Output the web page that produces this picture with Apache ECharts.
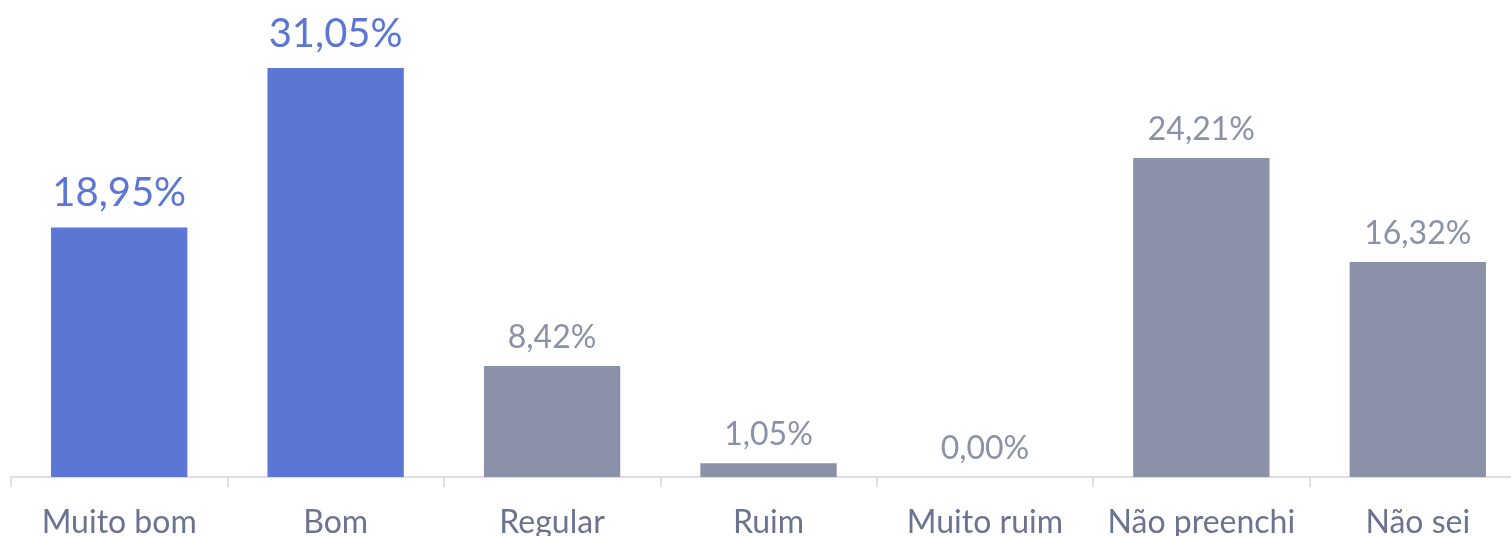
<!DOCTYPE html>
<html>
<head>
<meta charset="utf-8">
<script src="https://cdn.jsdelivr.net/npm/echarts@6/dist/echarts.min.js"></script>
<style>
  html, body { margin: 0; padding: 0; background: #fff; }
  #main { width: 1511px; height: 536px; }
</style>
</head>
<body>
<div id="main"></div>
<script>
var categories = ['Muito bom', 'Bom', 'Regular', 'Ruim', 'Muito ruim', 'Não preenchi', 'Não sei'];
var values = [18.95, 31.05, 8.42, 1.05, 0.00, 24.21, 16.32];
var highlighted = [true, true, false, false, false, false, false];

var myChart = echarts.init(document.getElementById('main'));

function fmt(v) {
	return v.toFixed(2).replace('.', ',') + '%';
}

var barData = values.map(function (v, i) {
	var hi = highlighted[i];
	return {
		value: v,
		itemStyle: { color: hi ? '#5B76D4' : '#8A91A8' },
		label: {
			color: hi ? '#5B76D4' : '#8A91A8',
			fontSize: hi ? 40 : 32,
			distance: hi ? 14 : 12
		}
	};
});

var option = {
	backgroundColor: '#ffffff',
	animation: false,
	grid: {
		left: 11,
		right: -15,
		top: 16,
		bottom: 59,
		containLabel: false,
		outerBoundsMode: 'none'
	},
	xAxis: {
		type: 'category',
		data: categories,
		axisLine: { lineStyle: { color: '#DCDFE6', width: 2 } },
		axisTick: { show: true, length: 10, lineStyle: { color: '#DCDFE6', width: 2 } },
		axisLabel: {
			color: '#6B7390',
			fontSize: 32,
			fontFamily: 'Lato',
			margin: 30,
			interval: 0
		}
	},
	yAxis: {
		type: 'value',
		min: 0,
		max: 35,
		show: false
	},
	series: [
		{
			type: 'bar',
			data: barData,
			barWidth: '63%',
			label: {
				show: true,
				position: 'top',
				fontFamily: 'Lato',
				formatter: function (p) { return fmt(p.value); }
			}
		}
	]
};

myChart.setOption(option);
</script>
</body>
</html>
